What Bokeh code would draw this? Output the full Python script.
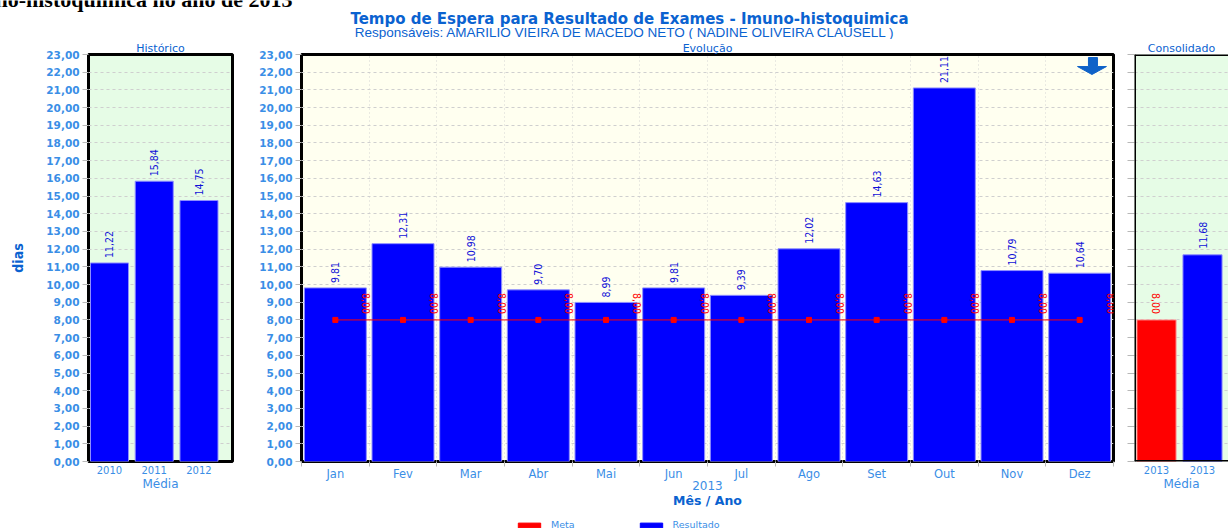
import math
from bokeh.plotting import figure
from bokeh.models import (ColumnDataSource, FixedTicker, Span, Legend,
                          LegendItem, Range1d, LinearAxis)
from bokeh.layouts import row, column
from bokeh.embed import file_html
from bokeh.resources import INLINE
from bokeh.core.properties import value

# ---------------- data ----------------
hist_years = ["2010", "2011", "2012"]
hist_values = [11.22, 15.84, 14.75]

months = ["Jan", "Fev", "Mar", "Abr", "Mai", "Jun",
          "Jul", "Ago", "Set", "Out", "Nov", "Dez"]
month_values = [9.81, 12.31, 10.98, 9.70, 8.99, 9.81,
                9.39, 12.02, 14.63, 21.11, 10.79, 10.64]
meta_values = [8.00, 8.00, 8.00, 8.00, 8.00, 8.00,
               8.00, 8.00, 8.00, 8.00, 8.00, 8.00]

cons_years = ["2013", "2013"]
cons_series = ["Meta", "Resultado"]
cons_values = [8.00, 11.68]

y_ticks = list(range(0, 24))

# ---------------- style ----------------
TITLE_C = "#0a62d0"
TICK_C = "#3a8ee6"
BLUE = "#0000ff"
BLUE_LINE = "#8f8fff"
RED = "#ff0000"
RED_LINE = "#ff9090"
VAL_C = "#1010d8"
GREEN_BG = "#e6fce6"
IVORY_BG = "#fffff0"
SANS = "DejaVu Sans"
NARROW = "DejaVu Sans Condensed"

ROW_H = 476      # rows: page y 39 .. 515
TOP_B = 14       # frame top at page y 53
BOT_B = 54       # frame bottom at page y 461


def fmt(v):
    return f"{v:.2f}".replace(".", ",")


def base(width, x_range, bg, mbl, mbr, title):
    p = figure(width=width, height=ROW_H, x_range=x_range, y_range=Range1d(0, 23),
               output_backend="svg", toolbar_location=None,
               min_border_left=mbl, min_border_right=mbr,
               min_border_top=TOP_B, min_border_bottom=BOT_B,
               background_fill_color=bg, border_fill_color="white")
    p.title.text = title
    p.title.align = "center"
    p.title.standoff = 0
    p.title.text_font = SANS
    p.title.text_font_size = "11px"
    p.title.text_font_style = "normal"
    p.title.text_color = TITLE_C
    p.outline_line_color = "black"
    p.outline_line_width = 3
    p.yaxis.ticker = FixedTicker(ticks=y_ticks)
    p.yaxis.major_label_overrides = {t: f"{t},00" for t in y_ticks}
    p.yaxis.major_label_text_font = SANS
    p.yaxis.major_label_text_font_style = "bold"
    p.yaxis.major_label_text_font_size = "10.5px"
    p.yaxis.major_label_text_color = TICK_C
    p.yaxis.major_tick_out = 6
    p.yaxis.major_tick_in = 0
    p.yaxis.major_tick_line_color = "#b8b8b8"
    p.yaxis.minor_tick_line_color = None
    p.yaxis.axis_line_color = None
    p.yaxis.major_label_standoff = 3
    p.xaxis.axis_line_color = None
    p.xaxis.major_label_text_font = SANS
    p.xaxis.major_label_text_color = TICK_C
    p.xaxis.axis_label_text_font = SANS
    p.xaxis.axis_label_text_font_style = "normal"
    p.xaxis.axis_label_text_font_size = "12px"
    p.xaxis.axis_label_text_color = TICK_C
    p.xaxis.axis_label_standoff = 0
    p.ygrid.grid_line_color = "#cfcfcf"
    p.ygrid.grid_line_dash = "3 3"
    p.xgrid.grid_line_color = None
    return p


def value_labels(p, src, **kw):
    p.text(x="x", y="top", text="lbl", source=src, text_baseline="middle",
           text_font=value(NARROW), text_font_size="10.5px", **kw)


# ---------------- top: titles ----------------
pt = figure(width=1228, height=39, x_range=Range1d(0, 1228), y_range=Range1d(39, 0),
            x_axis_type=None, y_axis_type=None, title=None,
            output_backend="svg", toolbar_location=None, min_border=0,
            outline_line_color=None, background_fill_color="white",
            border_fill_color="white")
pt.xgrid.grid_line_color = None
pt.ygrid.grid_line_color = None
pt.text(x=[292], y=[-1], text=["Imuno-histoquímica no ano de 2013"],
        text_align="right", text_baseline="alphabetic",
        text_font=value("Liberation Serif"), text_font_style="bold",
        text_font_size="22px", text_color="black")
pt.text(x=[629], y=[18], text=["Tempo de Espera para Resultado de Exames - Imuno-histoquimica"],
        text_align="center", text_baseline="middle", text_font=value(SANS),
        text_font_style="bold", text_font_size="15px", text_color=TITLE_C)
pt.text(x=[625], y=[31.5],
        text=["Responsáveis: AMARILIO VIEIRA DE MACEDO NETO ( NADINE OLIVEIRA CLAUSELL )"],
        text_align="center", text_baseline="middle",
        text_font=value("Liberation Sans"), text_font_size="13.5px", text_color=TITLE_C)

# ---------------- left: Histórico ----------------
hx = list(range(len(hist_years)))
pl = base(240, Range1d(-0.469, 2.749), GREEN_BG, 88, 8, "Histórico")
src_h = ColumnDataSource(dict(x=hx, top=hist_values,
                              lbl=[fmt(v) for v in hist_values]))
pl.vbar(x="x", top="top", width=0.85, source=src_h,
        fill_color=BLUE, line_color=BLUE_LINE, line_width=1)
value_labels(pl, src_h, angle=math.pi / 2, text_align="left", y_offset=-5,
             text_color=VAL_C)
pl.xaxis.ticker = FixedTicker(ticks=hx)
pl.xaxis.major_label_overrides = {i: y for i, y in zip(hx, hist_years)}
pl.xaxis.major_tick_line_color = None
pl.xaxis.major_tick_out = 0
pl.xaxis.minor_tick_line_color = None
pl.xaxis.major_label_text_font_size = "10px"
pl.xaxis.major_label_standoff = 4
pl.xaxis.axis_label = "Média"
pl.yaxis.axis_label = "dias"
pl.yaxis.axis_label_text_font = NARROW
pl.yaxis.axis_label_text_font_style = "bold"
pl.yaxis.axis_label_text_font_size = "14px"
pl.yaxis.axis_label_text_color = TITLE_C
pl.yaxis.axis_label_standoff = 17

# ---------------- middle: Evolução ----------------
mx = list(range(len(months)))
bounds = [i + 0.5 for i in range(len(months) - 1)]
pm = base(880, Range1d(-0.5, len(months) - 0.5), IVORY_BG, 61, 7, "Evolução")
src_m = ColumnDataSource(dict(x=mx, top=month_values,
                              lbl=[fmt(v) for v in month_values],
                              meta=meta_values,
                              mlbl=[fmt(v) for v in meta_values]))
pm.vbar(x="x", top="top", width=0.916, source=src_m,
        fill_color=BLUE, line_color=BLUE_LINE, line_width=1)
value_labels(pm, src_m, angle=math.pi / 2, text_align="left", y_offset=-5,
             text_color=VAL_C)
pm.line(x="x", y="meta", source=src_m, line_color=RED, line_width=1)
pm.scatter(x="x", y="meta", source=src_m, marker="square", size=5,
           fill_color=RED, line_color=RED)
pm.text(x="x", y="meta", text="mlbl", source=src_m, angle=-math.pi / 2,
        text_align="right", text_baseline="middle", y_offset=-6, x_offset=31,
        text_font=value(NARROW), text_font_size="10.5px", text_color=RED)

pm.xaxis.ticker = FixedTicker(ticks=mx, minor_ticks=bounds + [-0.5, len(months) - 0.5])
pm.xaxis.major_label_overrides = {i: m for i, m in zip(mx, months)}
pm.xaxis.major_tick_line_color = None
pm.xaxis.major_tick_out = 0
pm.xaxis.minor_tick_line_color = "#b8b8b8"
pm.xaxis.minor_tick_out = 5
pm.xaxis.minor_tick_in = 0
pm.xaxis.major_label_text_font_size = "11.5px"
pm.xaxis.major_label_standoff = 0
pm.xaxis.axis_label = "2013"
pm.xaxis.axis_label_standoff = -3
pm.xgrid.ticker = FixedTicker(ticks=bounds)
pm.xgrid.grid_line_color = "#d4d4d4"
pm.xgrid.grid_line_dash = "1 3"
ax2 = LinearAxis(ticker=FixedTicker(ticks=[]), axis_label="Mês / Ano",
                 axis_line_color=None, major_tick_line_color=None,
                 minor_tick_line_color=None, major_tick_out=0, major_tick_in=0,
                 major_label_standoff=0, axis_label_standoff=0,
                 axis_label_text_font=SANS, axis_label_text_font_style="bold",
                 axis_label_text_font_size="12.5px", axis_label_text_color=TITLE_C)
pm.add_layout(ax2, "below")

# arrow icon
pm.patch(x=[11.130, 11.263, 11.263, 11.396, 11.182, 10.968, 11.130],
         y=[22.83, 22.83, 22.32, 22.32, 21.87, 22.32, 22.32],
         fill_color="#0f62c8", line_color="#0f62c8")

# ---------------- right: Consolidado ----------------
cx = list(range(len(cons_values)))
pr = base(108, Range1d(-0.478, 1.565), GREEN_BG, 14, 0, "Consolidado")
pr.outline_line_color = None
src_c = ColumnDataSource(dict(x=cx, top=cons_values,
                              fill=[RED, BLUE], line=[RED_LINE, BLUE_LINE],
                              lbl=[fmt(v) for v in cons_values],
                              tc=[RED, VAL_C],
                              ang=[-math.pi / 2, math.pi / 2],
                              al=["right", "left"]))
pr.vbar(x="x", top="top", width=0.85, source=src_c,
        fill_color="fill", line_color="line", line_width=1)
value_labels(pr, src_c, angle="ang", text_align="al", y_offset=-6,
             text_color="tc")
pr.yaxis.major_label_overrides = {t: "" for t in y_ticks}
pr.yaxis.major_label_text_color = None
pr.yaxis.major_label_standoff = 0
pr.yaxis.major_tick_out = 7
pr.xaxis.ticker = FixedTicker(ticks=cx)
pr.xaxis.major_label_overrides = {i: y for i, y in zip(cx, cons_years)}
pr.xaxis.major_tick_line_color = None
pr.xaxis.major_tick_out = 0
pr.xaxis.minor_tick_line_color = None
pr.xaxis.major_label_text_font_size = "10px"
pr.xaxis.major_label_standoff = 4
pr.xaxis.axis_label = "Média"
for loc, dim in [(-0.478, "height"), (0, "width"), (23, "width")]:
    pr.add_layout(Span(location=loc, dimension=dim, line_color="black",
                       line_width=3))

# ---------------- bottom: legend ----------------
pg = figure(width=1228, height=15, x_range=Range1d(0, 1228), y_range=Range1d(0, 15),
            x_axis_type=None, y_axis_type=None, title=None,
            output_backend="svg", toolbar_location=None, min_border=0,
            outline_line_color=None, background_fill_color="white",
            border_fill_color="white")
pg.xgrid.grid_line_color = None
pg.ygrid.grid_line_color = None
leg_src = ColumnDataSource(dict(x=cx, top=cons_values, fill=[RED, BLUE]))
r_meta = pg.vbar(x="x", top="top", width=0.85, fill_color=RED, line_color=RED,
                 source=leg_src, visible=False)
r_res = pg.vbar(x="x", top="top", width=0.85, fill_color=BLUE, line_color=BLUE,
                source=leg_src, visible=False)
legend = Legend(items=[LegendItem(label=cons_series[0], renderers=[r_meta]),
                       LegendItem(label=cons_series[1], renderers=[r_res])],
                orientation="horizontal", location=(515, 0),
                glyph_width=28, glyph_height=6, label_height=8,
                label_text_font=SANS, label_text_font_size="9.5px",
                label_text_color=TICK_C, label_standoff=8, spacing=62,
                padding=0, margin=0, border_line_color=None,
                background_fill_alpha=0, inactive_fill_alpha=0)
pg.add_layout(legend)

layout = column(pt, row(pl, pm, pr, spacing=0), pg, spacing=0)
open("out.html", "w").write(file_html(layout, INLINE))
